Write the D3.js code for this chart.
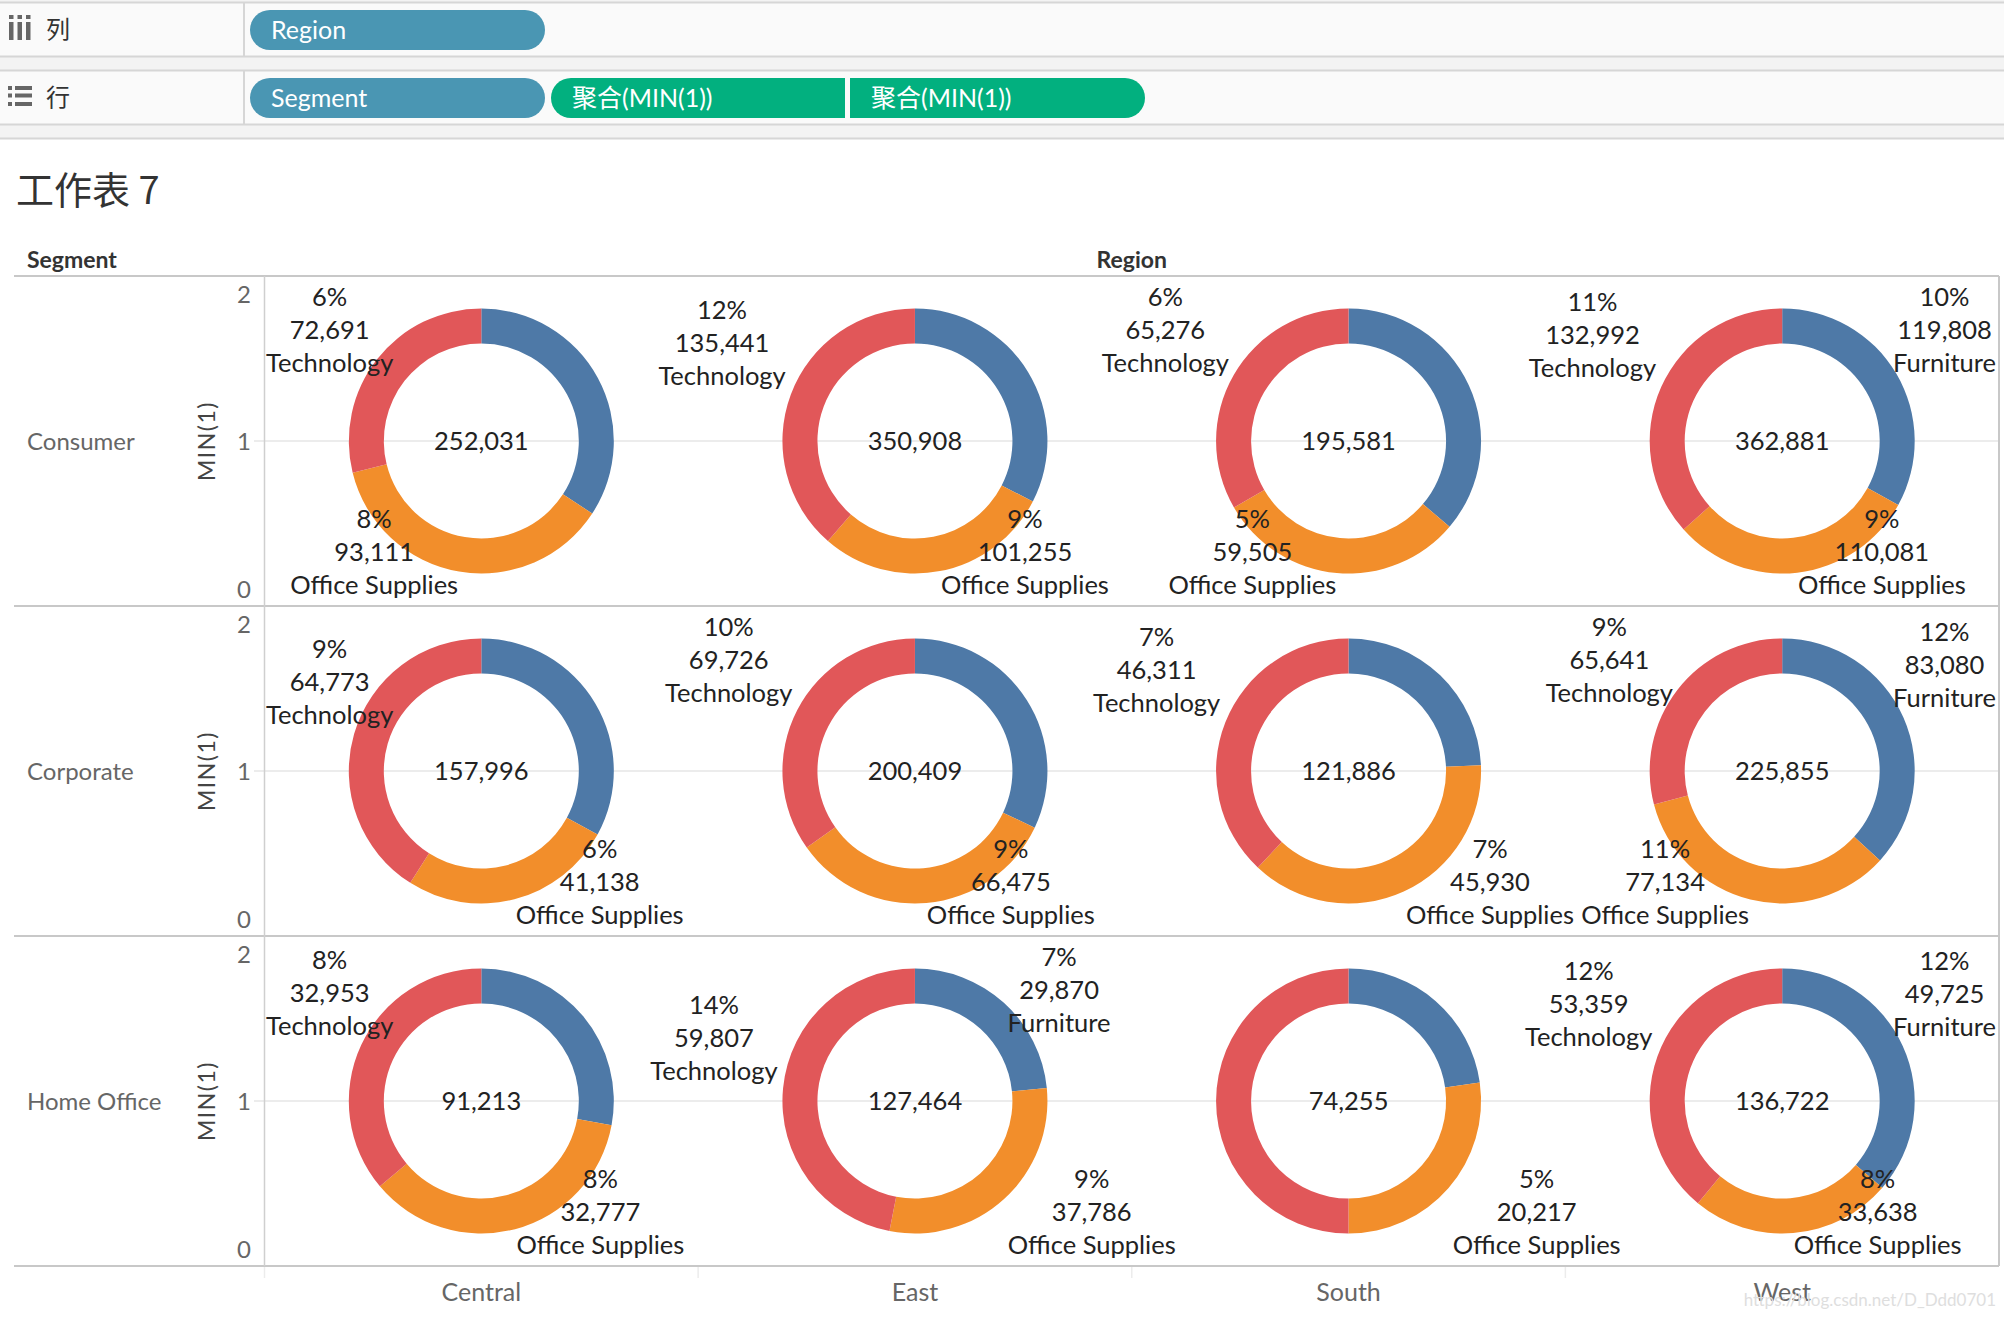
<!DOCTYPE html>
<html>
<head>
<meta charset="utf-8">
<script src="https://cdn.jsdelivr.net/npm/d3@7"></script>
<style>
body { margin: 0; background: #fff; }
text { font-family: Lato, "Noto Sans CJK SC", sans-serif; }
</style>
</head>
<body>
<svg id="chart" width="2004" height="1318"></svg>
<script>
var regions = ["Central", "East", "South", "West"];
var segments = ["Consumer", "Corporate", "Home Office"];
var categories = ["Furniture", "Office Supplies", "Technology"];
var colors = ["#4e79a7", "#f28e2b", "#e15759"];

// sales by segment (rows) and region (columns)
var furnitureSales = [
    [86229, 114212, 70800, 119808],
    [52085, 64208, 29645, 83080],
    [25483, 29870, 16910, 49725]
];
var officeSales = [
    [93111, 101255, 59505, 110081],
    [41138, 66475, 45930, 77134],
    [32777, 37786, 20217, 33638]
];
var techSales = [
    [72691, 135441, 65276, 132992],
    [64773, 69726, 46311, 65641],
    [32953, 59807, 37128, 53359]
];
var totals = [
    [252031, 350908, 195581, 362881],
    [157996, 200409, 121886, 225855],
    [91213, 127464, 74255, 136722]
];
// percent labels; null where tableau hid the label
var furniturePct = [
    [null, null, null, 10],
    [null, null, null, 12],
    [null, 7, null, 12]
];
var officePct = [
    [8, 9, 5, 9],
    [6, 9, 7, 11],
    [8, 9, 5, 8]
];
var techPct = [
    [6, 12, 6, 11],
    [9, 10, 7, 9],
    [8, 14, null, 12]
];
var axisTicks = [0, 1, 2];

var sales = [furnitureSales, officeSales, techSales];
var pcts = [furniturePct, officePct, techPct];

var svg = d3.select("#chart");
var fmt = d3.format(",");

// ---- shelves ----
svg.append("rect").attr("x", 0).attr("y", 0).attr("width", 2004).attr("height", 139).attr("fill", "#f3f3f3");
[3, 71].forEach(function(top) {
    svg.append("rect").attr("x", 0).attr("y", top).attr("width", 2004).attr("height", 53).attr("fill", "#fafafa");
    svg.append("line").attr("x1", 244).attr("x2", 244).attr("y1", top).attr("y2", top + 53)
        .attr("stroke", "#d6d6d6").attr("stroke-width", 2);
});
[2.5, 56.5, 70.5, 124.5, 138.5].forEach(function(yy) {
    svg.append("line").attr("x1", 0).attr("x2", 2004).attr("y1", yy).attr("y2", yy)
        .attr("stroke", "#d6d6d6").attr("stroke-width", 2);
});

// columns icon
[9, 17.5, 26].forEach(function(xx) {
    svg.append("rect").attr("x", xx).attr("y", 15).attr("width", 4.5).attr("height", 4).attr("fill", "#666");
    svg.append("rect").attr("x", xx).attr("y", 22).attr("width", 4.5).attr("height", 18).attr("fill", "#666");
});
// rows icon
[86, 93.5, 102].forEach(function(yy) {
    svg.append("rect").attr("x", 8).attr("y", yy).attr("width", 4).attr("height", 4).attr("fill", "#666");
    svg.append("rect").attr("x", 15).attr("y", yy).attr("width", 17).attr("height", 4).attr("fill", "#666");
});
svg.append("text").attr("x", 46).attr("y", 38).text("列")
    .style("font-size", "24px").attr("fill", "#333");
svg.append("text").attr("x", 46).attr("y", 106).text("行")
    .style("font-size", "24px").attr("fill", "#333");

function pill(x0, y0, w, color, label, roundL, roundR) {
    var g = svg.append("g");
    g.append("rect").attr("x", x0).attr("y", y0).attr("width", w).attr("height", 40).attr("rx", 20).attr("fill", color);
    if (!roundL) g.append("rect").attr("x", x0).attr("y", y0).attr("width", w / 2).attr("height", 40).attr("fill", color);
    if (!roundR) g.append("rect").attr("x", x0 + w / 2).attr("y", y0).attr("width", w / 2).attr("height", 40).attr("fill", color);
    g.append("text").attr("x", x0 + 21).attr("y", y0 + 29).text(label)
        .style("font-size", "25px").attr("fill", "#fff");
}
pill(250, 10, 295, "#4a96b3", "Region", true, true);
pill(250, 78, 295, "#4a96b3", "Segment", true, true);
pill(551, 78, 294, "#02b07f", "聚合(MIN(1))", true, false);
pill(850, 78, 295, "#02b07f", "聚合(MIN(1))", false, true);

// title
svg.append("text").attr("x", 16).attr("y", 204).text("工作表 7")
    .style("font-family", "'Noto Sans CJK SC', sans-serif")
    .style("font-size", "38px").attr("fill", "#333");

// ---- table ----
var x = d3.scaleBand().domain(regions).range([264.5, 1999]);
var row = d3.scaleBand().domain(segments).range([276, 1266]);
var y = d3.scaleLinear().domain([0, 2]).range([row.bandwidth(), 0]);

var pie = d3.pie().sort(null).value(function(d) { return d.value; });
var arc = d3.arc().innerRadius(97.5).outerRadius(132.5);
var labelR = 138, halfBlock = 50, lineGap = 33;
var paneLeft = 266, paneRight = 1996;

svg.append("text").attr("x", 27).attr("y", 268).text("Segment")
    .style("font-size", "23px").style("font-weight", "bold").attr("fill", "#333");
svg.append("text").attr("x", (264.5 + 1999) / 2).attr("y", 268).attr("text-anchor", "middle").text("Region")
    .style("font-size", "23px").style("font-weight", "bold").attr("fill", "#333");

var labelLayer = [];

segments.forEach(function(seg, si) {
    var g = svg.append("g").attr("transform", "translate(0," + row(seg) + ")");

    // gridline at 1
    g.append("line").attr("x1", 254).attr("x2", 1999).attr("y1", y(1)).attr("y2", y(1))
        .attr("stroke", "#ececec").attr("stroke-width", 2);

    g.append("text").attr("x", 27).attr("y", y(1) + 9).text(seg)
        .style("font-size", "24px").attr("fill", "#666");

    g.append("text").attr("transform", "translate(215," + y(1) + ") rotate(-90)")
        .attr("text-anchor", "middle").text("MIN(1)")
        .style("font-size", "23px").style("letter-spacing", "1.5px").attr("fill", "#444");

    g.selectAll(".tick").data(axisTicks).enter().append("text")
        .attr("x", 251)
        .attr("y", function(d) { return y(d) + (d === 2 ? 27 : d === 0 ? -8 : 9); })
        .attr("text-anchor", "end")
        .text(function(d) { return d; })
        .style("font-size", "24px").attr("fill", "#666");

    regions.forEach(function(reg, ri) {
        var cx = x(reg) + x.bandwidth() / 2, cy = y(1);
        var slices = categories.map(function(c, ci) {
            return { cat: c, value: sales[ci][si][ri], pct: pcts[ci][si][ri], color: colors[ci] };
        });
        var arcs = pie(slices);
        var cell = g.append("g").attr("transform", "translate(" + cx + "," + cy + ")");
        cell.selectAll("path").data(arcs).enter().append("path")
            .attr("d", arc)
            .attr("fill", function(d) { return d.data.color; });
        cell.append("text").attr("y", 9).attr("text-anchor", "middle")
            .text(fmt(totals[si][ri]))
            .style("font-size", "25.5px").attr("fill", "#222");
        arcs.forEach(function(a) {
            if (a.data.pct == null) return;
            labelLayer.push({ a: a, cx: cx, cy: cy + row(seg) });
        });
    });
});

// labels on top of rings
labelLayer.forEach(function(l) {
    var a = l.a;
    var mid = (a.startAngle + a.endAngle) / 2;
    var s = Math.sin(mid), c = Math.cos(mid);
    var px = l.cx + labelR * s, py = l.cy - labelR * c;
    var lg = svg.append("g");
    var lines = [a.data.pct + "%", fmt(a.data.value), a.data.cat];
    lines.forEach(function(t, i) {
        lg.append("text").attr("text-anchor", "middle").attr("y", (i - 1) * lineGap + 9)
            .text(t).style("font-size", "25.5px").attr("fill", "#222");
    });
    var w = 0;
    lg.selectAll("text").each(function() { w = Math.max(w, this.getComputedTextLength()); });
    var bx = s < 0 ? px - w / 2 : px + w / 2;
    var by = c > 0 ? py - halfBlock : py + halfBlock;
    by = Math.max(l.cy - 111, Math.min(l.cy + 111, by));
    bx = Math.max(paneLeft + w / 2, Math.min(paneRight - w / 2, bx));
    lg.attr("transform", "translate(" + bx + "," + by + ")");
});

// table lines
row.domain().concat(["end"]).forEach(function(seg) {
    var yy = seg === "end" ? 1266 : row(seg);
    svg.append("line").attr("x1", 14).attr("x2", 1999).attr("y1", yy).attr("y2", yy)
        .attr("stroke", "#c8c8c8").attr("stroke-width", 2);
});
svg.append("line").attr("x1", 1999).attr("x2", 1999).attr("y1", 276).attr("y2", 1266)
    .attr("stroke", "#c8c8c8").attr("stroke-width", 2);
svg.append("line").attr("x1", 264.5).attr("x2", 264.5).attr("y1", 276).attr("y2", 1266)
    .attr("stroke", "#cfcfcf").attr("stroke-width", 1.5);
regions.forEach(function(reg, ri) {
    svg.append("line").attr("x1", x(reg)).attr("x2", x(reg)).attr("y1", 1267).attr("y2", 1278)
        .attr("stroke", "#ececec").attr("stroke-width", 1.5);
    svg.append("text").attr("x", x(reg) + x.bandwidth() / 2).attr("y", 1301).attr("text-anchor", "middle")
        .text(reg).style("font-size", "25px").attr("fill", "#666");
});

svg.append("text").attr("x", 1996).attr("y", 1306).attr("text-anchor", "end")
    .text("https://blog.csdn.net/D_Ddd0701")
    .style("font-size", "17px").attr("fill", "#dedede");
</script>
</body>
</html>
